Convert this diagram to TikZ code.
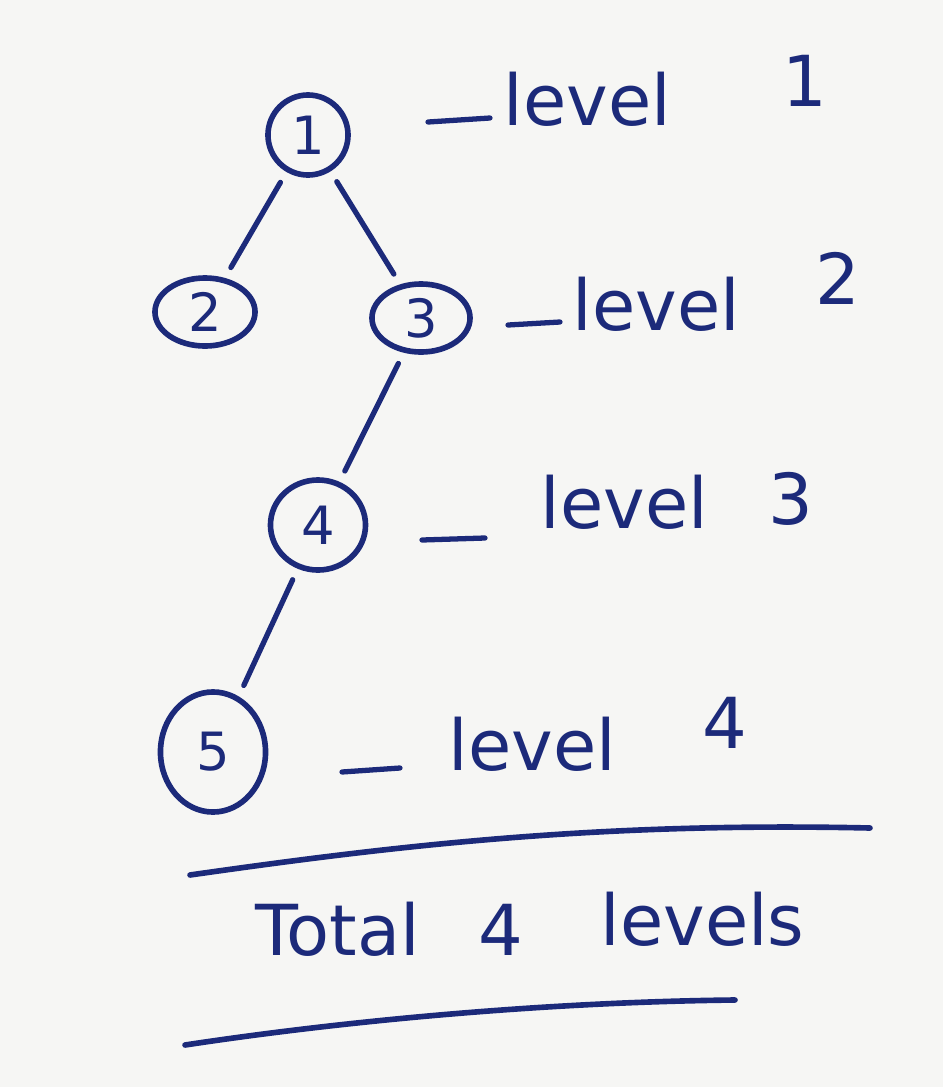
\documentclass[tikz,border=0pt]{standalone}
\usepackage{fontspec}
\setmainfont{DejaVu Sans}
\usetikzlibrary{shapes.geometric}
\definecolor{ink}{HTML}{1C2A7A}
\definecolor{paper}{HTML}{F6F6F4}
\begin{document}
\begin{tikzpicture}[x=0.01cm,y=-0.01cm,
  vtx/.style={ellipse,draw=ink,line width=1.6pt,inner sep=0pt,text=ink,font=\fontsize{15}{18}\selectfont},
  edge/.style={draw=ink,line width=1.5pt,line cap=round,shorten <=0.12cm,shorten >=0.12cm},
  lvl/.style={anchor=base west,text=ink,font=\fontsize{20}{24}\selectfont,inner sep=0pt},
  dashline/.style={draw=ink,line width=1.5pt,line cap=round},
  rule/.style={draw=ink,line width=1.6pt,line cap=round}]
\fill[paper] (0,0) rectangle (943,1087);
\useasboundingbox (0,0) rectangle (943,1087);
\node[vtx,minimum width=0.8cm,minimum height=0.8cm] (n1) at (308,135) {1};
\node[vtx,minimum width=1.0cm,minimum height=0.68cm] (n2) at (205,312) {2};
\node[vtx,minimum width=0.98cm,minimum height=0.68cm] (n3) at (421,318) {3};
\node[vtx,minimum width=0.95cm,minimum height=0.9cm] (n4) at (318,525) {4};
\node[vtx,minimum width=1.05cm,minimum height=1.2cm] (n5) at (213,752) {5};
\draw[edge] (n1) -- (n2);
\draw[edge] (n1) -- (n3);
\draw[edge] (n3) -- (n4);
\draw[edge] (n4) -- (n5);
% level 1
\coordinate (d1a) at (428,122); \coordinate (d1b) at (490,118);
\draw[dashline] (d1a) -- (d1b);
\node[lvl] (l1) at (503,125) {level};
\node[lvl] (k1) at (782,106) {1};
% level 2
\coordinate (d2a) at (508,325); \coordinate (d2b) at (560,322);
\draw[dashline] (d2a) -- (d2b);
\node[lvl] (l2) at (572,330) {level};
\node[lvl] (k2) at (815,304) {2};
% level 3
\coordinate (d3a) at (422,540); \coordinate (d3b) at (485,538);
\draw[dashline] (d3a) -- (d3b);
\node[lvl] (l3) at (540,528) {level};
\node[lvl] (k3) at (768,524) {3};
% level 4
\coordinate (d4a) at (342,772); \coordinate (d4b) at (400,768);
\draw[dashline] (d4a) -- (d4b);
\node[lvl] (l4) at (448,770) {level};
\node[lvl] (k4) at (702,748) {4};
\coordinate (r1a) at (190,875);
\coordinate (r1b) at (870,828);
\draw[rule] (r1a) .. controls (400,845) and (600,822) .. (r1b);
\node[lvl] (tot) at (255,955) {Total};
\node[lvl] (t4) at (478,955) {4};
\node[lvl] (tl) at (600,945) {levels};
\coordinate (r2a) at (185,1045);
\coordinate (r2b) at (735,1000);
\draw[rule] (r2a) .. controls (350,1020) and (550,1002) .. (r2b);
\end{tikzpicture}
\end{document}
